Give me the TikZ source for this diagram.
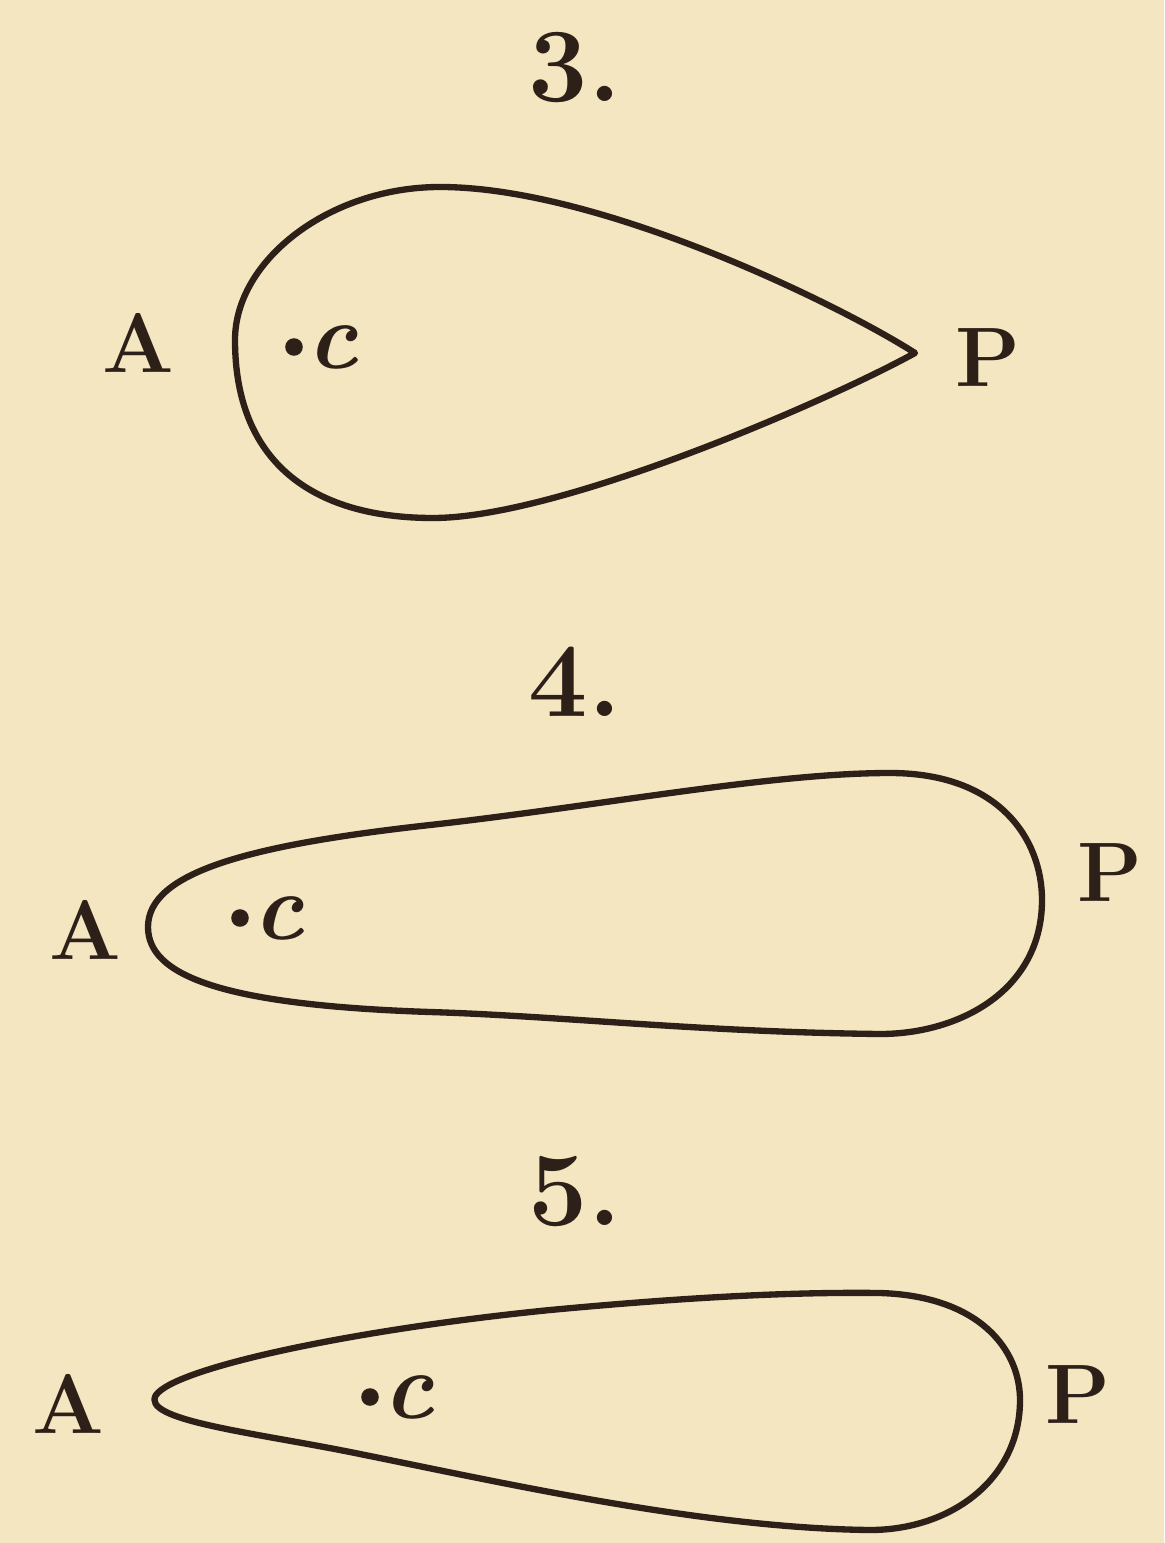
\documentclass[tikz,border=0pt]{standalone}
\usepackage{xcolor}
\usepackage{tikz}
\usetikzlibrary{positioning}

\definecolor{paper}{RGB}{243,230,192}
\definecolor{ink}{RGB}{45,32,24}

\begin{document}
\begin{tikzpicture}[x=0.01cm, y=-0.01cm,
    orbit/.style={draw=ink, line width=1.8pt, line join=round},
    numlab/.style={text=ink, font=\fontsize{30}{34}\selectfont\bfseries},
    ptlab/.style={text=ink, font=\fontsize{24}{28}\selectfont\bfseries},
    centre/.style={circle, fill=ink, inner sep=0pt, minimum size=5pt},
    clab/.style={text=ink, font=\fontsize{27}{30}\selectfont\bfseries\itshape, inner sep=1pt}]
  \fill[paper] (0,0) rectangle (1164,1543);
  \useasboundingbox (0,0) rectangle (1164,1543);

  % figure numbers
  \foreach \n/\y in {3/68,4/682,5/1192}
    \node[numlab] (num\n) at (575,\y) {\n.};

  % fig. 3 -- pointed at P
  \draw[orbit] (915,353) .. controls (840,305) and (600,187) .. (440,187)
    .. controls (330,187) and (235,260) .. (235,340)
    .. controls (235,460) and (310,518) .. (433,518)
    .. controls (560,518) and (830,400) .. (915,353) -- cycle;
  \node[ptlab] (A3) at (138,343) {A};
  \node[ptlab] (P3) at (988,358) {P};
  \node[centre] (c3) at (294,347) {};
  \node[clab, right=0pt of c3] (cl3) {c};

  % fig. 4 -- blunt at both ends
  \draw[orbit] (148,927) .. controls (148,872) and (250,845) .. (430,825)
    .. controls (600,806) and (770,773) .. (890,773)
    .. controls (1000,773) and (1042,840) .. (1042,900)
    .. controls (1042,990) and (960,1034) .. (880,1034)
    .. controls (700,1032) and (560,1016) .. (430,1012)
    .. controls (220,1005) and (148,975) .. (148,927) -- cycle;
  \node[ptlab] (A4) at (85,930) {A};
  \node[ptlab] (P4) at (1110,873) {P};
  \node[centre] (c4) at (240,918) {};
  \node[clab, right=0pt of c4] (cl4) {c};

  % fig. 5 -- pointed at A
  \draw[orbit] (156,1395) .. controls (175,1368) and (350,1330) .. (550,1310)
    .. controls (700,1296) and (800,1292) .. (880,1293)
    .. controls (980,1296) and (1020,1350) .. (1020,1400)
    .. controls (1020,1480) and (950,1530) .. (870,1530)
    .. controls (700,1528) and (500,1482) .. (350,1452)
    .. controls (250,1432) and (140,1420) .. (156,1395) -- cycle;
  \node[ptlab] (A5) at (68,1404) {A};
  \node[ptlab] (P5) at (1078,1395) {P};
  \node[centre] (c5) at (370,1397) {};
  \node[clab, right=0pt of c5] (cl5) {c};
\end{tikzpicture}
\end{document}
